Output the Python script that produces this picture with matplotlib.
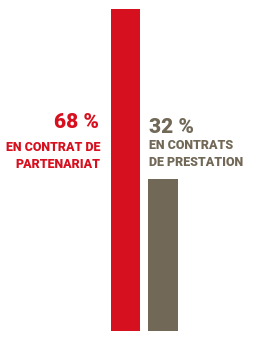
import matplotlib
matplotlib.use("Agg")
import matplotlib.pyplot as plt
from matplotlib import font_manager

categories = ["partenariat", "prestation"]
values = [68, 32]
pct_labels = ["68 %", "32 %"]
desc_labels = ["EN CONTRAT DE\nPARTENARIAT", "EN CONTRATS\nDE PRESTATION"]
colors = ["#D7101F", "#716857"]

# narrow bold face if available
family = "Roboto"
for name in ["Liberation Sans Narrow", "Roboto"]:
    try:
        font_manager.findfont(font_manager.FontProperties(family=name), fallback_to_default=False)
        family = name
        break
    except Exception:
        pass

fig = plt.figure(figsize=(2.56, 3.41), dpi=100)
fig.patch.set_facecolor("white")
ax = fig.add_axes([106.75 / 256, 10 / 341, 75 / 256, 322 / 341])
ax.bar(range(len(values)), values, width=0.78, color=colors)
ax.set_xlim(-0.5, 1.5)
ax.set_ylim(0, 68)
ax.axis("off")

font = dict(family=family, fontweight=900)

# left label (red), right-aligned next to the first bar
ax.annotate(pct_labels[0], xy=(-0.39, 44.0), xytext=(-9, 0), textcoords="offset points",
            ha="right", va="center", color=colors[0], fontsize=15, **font)
ax.annotate(desc_labels[0], xy=(-0.39, 37.0), xytext=(-7.4, 0), textcoords="offset points",
            ha="right", va="center", color=colors[0], fontsize=9, linespacing=1.35, **font)

# right label (gray), left-aligned above the second bar
ax.annotate(pct_labels[1], xy=(0.61, 43.0), xytext=(0.7, 0), textcoords="offset points",
            ha="left", va="center", color=colors[1], fontsize=15, **font)
ax.annotate(desc_labels[1], xy=(0.61, 37.4), xytext=(0.7, 0), textcoords="offset points",
            ha="left", va="center", color=colors[1], fontsize=9, linespacing=1.35, **font)

fig.savefig("out.png", dpi=100, facecolor="white")
